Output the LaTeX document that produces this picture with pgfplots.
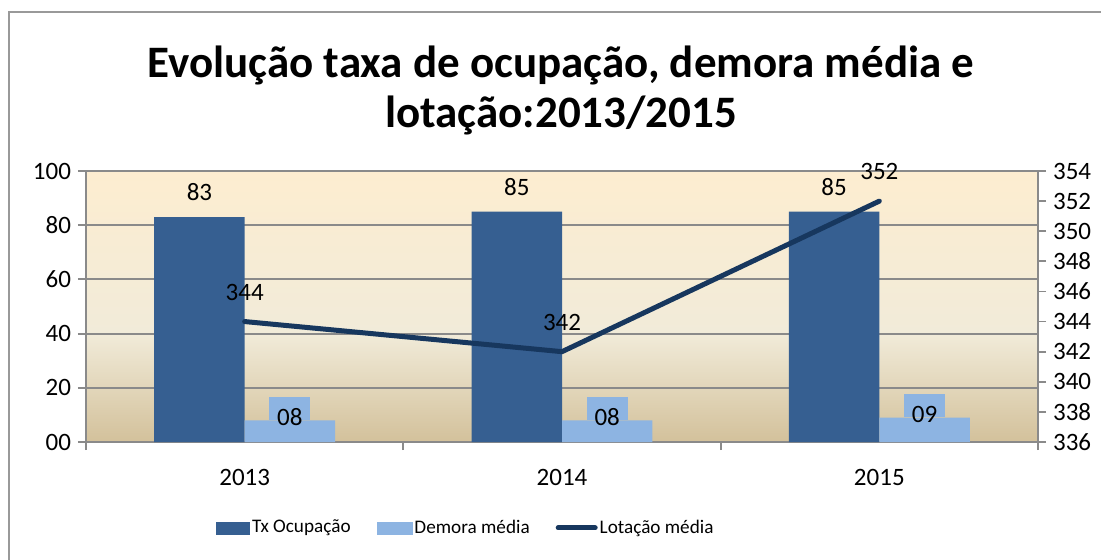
\documentclass[border=0pt]{standalone}
\usepackage{fontspec}
\setmainfont{Carlito}
\usepackage{pgfplots}
\pgfplotsset{compat=1.18}

\definecolor{darkbar}{HTML}{365F91}
\definecolor{lightbar}{HTML}{8DB4E2}
\definecolor{navyline}{HTML}{17375E}
\definecolor{gridgray}{HTML}{8A8A8A}
\definecolor{bgtop}{HTML}{FDEDD0}
\definecolor{bgmid}{HTML}{F1EBD9}
\definecolor{bgbot}{HTML}{D3C19B}
\pgfdeclareverticalshading{plotbg}{100bp}{color(0bp)=(bgbot); color(25bp)=(bgbot);
  color(45bp)=(bgmid); color(75bp)=(bgtop); color(100bp)=(bgtop)}

\newcommand{\tickfont}{\fontsize{12.5}{14}\selectfont}

\begin{document}
\begin{tikzpicture}
\path[use as bounding box] (0,0) rectangle (550.5pt,-280pt);
\draw[gray!80, line width=1pt] (4.5pt,-280pt) -- (4.5pt,-6pt) -- (550.5pt,-6pt);

\node[font=\fontsize{22.5}{25}\selectfont\bfseries, align=center] at (280.5pt,-45pt)
  {Evolução taxa de ocupação, demora média e\\lotação:2013/2015};

% left axis: bars
\begin{axis}[
  at={(43pt,-221pt)}, anchor=south west,
  scale only axis, width=476pt, height=135.5pt,
  xmin=-0.5, xmax=2.5, ymin=0, ymax=100,
  axis x line*=bottom, axis y line*=left,
  axis line style={gridgray, line width=0.9pt, -},
  axis background/.style={shading=plotbg},
  ymajorgrids, grid style={gridgray, line width=0.9pt},
  ytick={0,20,...,100}, yticklabels={00,20,40,60,80,100},
  xtick={-0.5,0.5,1.5,2.5}, xticklabels={},
  extra x ticks={0,1,2}, extra x tick labels={2013,2014,2015},
  extra x tick style={major tick length=0pt, grid=none,
    xticklabel style={yshift=-10pt}},
  tick align=outside, major tick length=4pt,
  tick style={gridgray, line width=0.9pt},
  ticklabel style={font=\tickfont},
  /pgf/number format/assume math mode=true,
  ybar, bar width=0.285,
  nodes near coords, point meta=explicit symbolic,
  nodes near coords style={font=\tickfont, text=black},
]
\addplot[bar shift=-0.1425, fill=darkbar, draw=none,
  every node near coord/.append style={yshift=4.5pt}]
  coordinates {(0,83)[83] (1,85)[85] (2,85)[85]};
\addplot[bar shift=0.1425, fill=lightbar, draw=none,
  nodes near coords={\smash{\raisebox{-8.5pt}{\pgfplotspointmeta}}},
  every node near coord/.append style={anchor=south, fill=lightbar,
    minimum width=20.5pt, minimum height=11.5pt, inner sep=0pt}]
  coordinates {(0,8)[08] (1,8)[08] (2,9)[09]};
\end{axis}

% right axis: line
\begin{axis}[
  at={(43pt,-221pt)}, anchor=south west,
  scale only axis, width=476pt, height=135.5pt,
  xmin=-0.5, xmax=2.5, ymin=336, ymax=354,
  axis x line=none, axis y line*=right,
  axis line style={gridgray, line width=0.9pt, -},
  ytick={336,338,...,354},
  tick align=outside, major tick length=4pt,
  tick style={gridgray, line width=0.9pt},
  ticklabel style={font=\tickfont},
  /pgf/number format/assume math mode=true,
  legend style={at={(0.399,-0.317)}, anchor=center, draw=none, fill=none,
    font=\fontsize{9.6}{12}\selectfont, legend columns=3,
    nodes={inner xsep=1pt},
    /tikz/every even column/.append style={column sep=12pt}},
  legend cell align=left,
]
\addlegendimage{legend image code/.code={\fill[darkbar] (0pt,-3pt) rectangle (16.5pt,3pt);}}
\addlegendentry{Tx Ocupação}
\addlegendimage{legend image code/.code={\fill[lightbar] (0pt,-3pt) rectangle (17.5pt,3pt);}}
\addlegendentry{Demora média}
\addplot[navyline, line width=2.5pt, line cap=round, line join=miter,
  nodes near coords, point meta=explicit symbolic,
  nodes near coords style={font=\tickfont, text=black, yshift=6pt},
  legend image code/.code={\draw[navyline, line width=2.5pt, line cap=round] (0pt,0pt) -- (18.5pt,0pt);}]
  coordinates {(0,344)[344] (1,342)[342] (2,352)[352]};
\addlegendentry{Lotação média}
\end{axis}
\end{tikzpicture}
\end{document}
